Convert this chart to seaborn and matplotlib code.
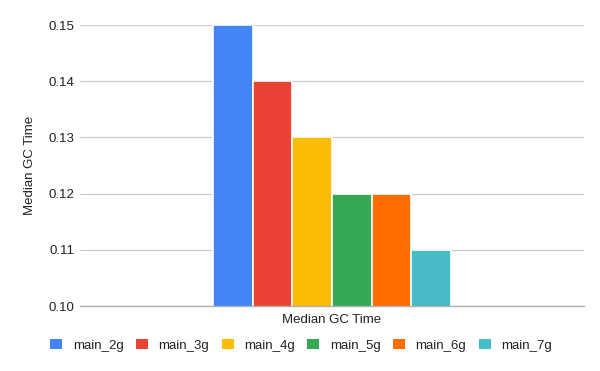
import matplotlib
matplotlib.use("Agg")
import matplotlib.pyplot as plt
import seaborn as sns
import pandas as pd
from matplotlib.patches import Patch

categories = ["Median GC Time"]
series = ["main_2g", "main_3g", "main_4g", "main_5g", "main_6g", "main_7g"]
values = [0.15, 0.14, 0.13, 0.12, 0.12, 0.11]
colors = ["#4285f4", "#ea4335", "#fbbc04", "#34a853", "#ff6d01", "#46bdc6"]
yticks = [0.10, 0.11, 0.12, 0.13, 0.14, 0.15]

df = pd.DataFrame({"cat": categories * len(series), "series": series, "value": values})

sns.set_theme(style="white")
plt.rcParams['font.family'] = ['Liberation Sans', 'DejaVu Sans']

fig = plt.figure(figsize=(6, 3.71), dpi=100)
ax = fig.add_axes([0.1333, 0.1752, 0.84, 0.7574])

sns.barplot(data=df, x="cat", y="value", hue="series", palette=colors,
            width=0.472, ax=ax, legend=False, edgecolor="white", linewidth=1.2,
            saturation=1)

ax.set_xlim(-0.5, 0.5)
ax.set_ylim(0.10, 0.15)
ax.set_yticks(yticks)
ax.set_yticklabels([f"{t:.2f}" for t in yticks], fontsize=9.5, color="#222222")
ax.tick_params(axis="x", labelsize=9.5, colors="#222222", length=0, pad=6)
ax.tick_params(axis="y", length=0, pad=4)
ax.grid(axis="y", color="#cccccc", linewidth=0.9)
ax.set_axisbelow(True)
for s in ["top", "right", "left"]:
    ax.spines[s].set_visible(False)
ax.spines["bottom"].set_color("#b0b0b0")
ax.spines["bottom"].set_linewidth(1)
ax.set_xlabel("")
ax.set_ylabel("Median GC Time", fontsize=9.5, color="#222222", labelpad=9)

handles = [Patch(facecolor=c, edgecolor="none") for c in colors]
fig.legend(handles, series, loc="center", bbox_to_anchor=(0.502, 0.07), ncol=6,
           frameon=False, fontsize=9.5, handlelength=0.9, handleheight=0.9,
           handletextpad=0.8, columnspacing=0.95, labelcolor="#222222")

fig.savefig("out.png", dpi=100)
